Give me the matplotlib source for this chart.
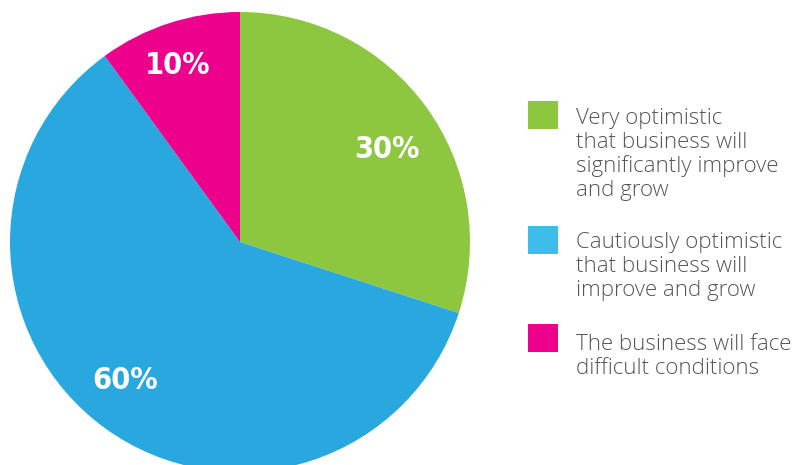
import matplotlib.pyplot as plt
from matplotlib.patches import Rectangle

# survey shares, clockwise from 12 o'clock
labels = ["30%", "60%", "10%"]
shares = [30, 60, 10]
pie_colors = ["#8dc63f", "#29a8e0", "#ec008c"]
legend_colors = ["#8dc63f", "#3ebdeb", "#ec008c"]
legend_lines = [
    ["Very optimistic", "that business will", "significantly improve", "and grow"],
    ["Cautiously optimistic", "that business will", "improve and grow"],
    ["The business will face", "difficult conditions"],
]

W, H = 792, 465
fig = plt.figure(figsize=(W / 100, H / 100), dpi=100)
ax = fig.add_axes([0, 0, 1, 1])

cx, cy, r = 240, 242, 230
# y axis is flipped below, so start at -90 and run counterclockwise in data
# space to get a clockwise pie starting at 12 o'clock on screen
ax.pie(shares, colors=pie_colors, startangle=-90, counterclock=True,
       center=(cx, cy), radius=r, frame=True,
       wedgeprops=dict(linewidth=0))
ax.set_xlim(0, W)
ax.set_ylim(H, 0)
ax.set_aspect("equal")
ax.axis("off")

# percentage labels inside the slices
label_pos = [(387, 149), (125, 380), (178, 66)]
for txt, (x, y) in zip(labels, label_pos):
    ax.text(x, y, txt, color="white", fontsize=22, fontweight="bold",
            family=["Liberation Sans Narrow", "DejaVu Sans Condensed", "DejaVu Sans"],
            fontstretch="condensed", ha="center", va="center")

# legend: square swatch plus wrapped text lines
swatch_tops = [101, 226, 324]
first_baselines = [124, 248, 350]
for col, lines, top, base in zip(legend_colors, legend_lines, swatch_tops, first_baselines):
    ax.add_patch(Rectangle((528, top), 30, 28, facecolor=col, edgecolor="none"))
    for i, line in enumerate(lines):
        ax.text(576, base + i * 24, line, color="#555555", fontsize=16,
                family=["Open Sans", "DejaVu Sans"], fontweight="light",
                ha="left", va="baseline")

fig.savefig("out.png", dpi=100)
